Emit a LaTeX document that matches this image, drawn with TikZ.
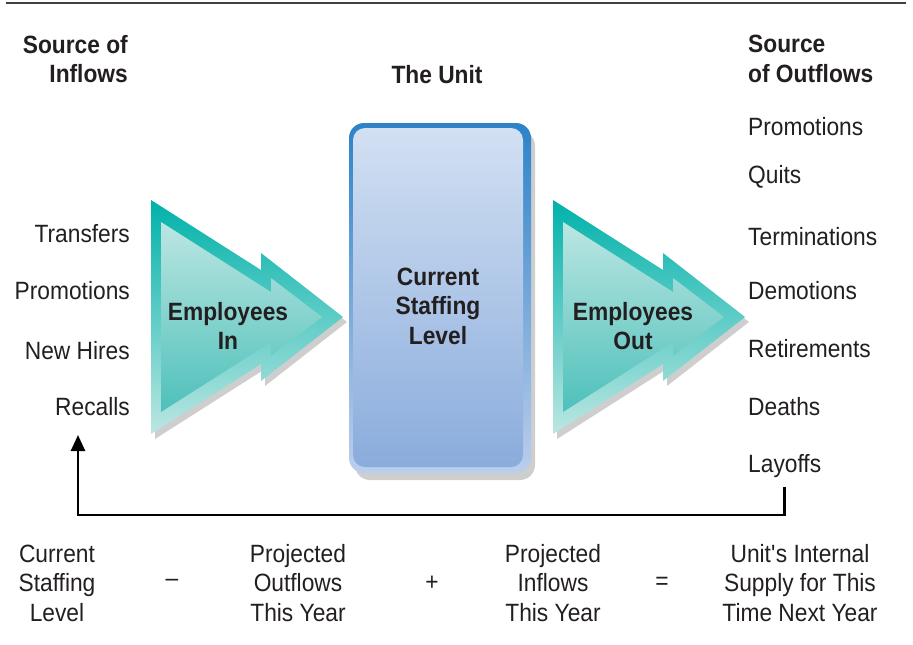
\documentclass[tikz,border=0pt]{standalone}
\usepackage{fontspec}
\setmainfont{Liberation Sans}[FakeStretch=0.91]
\usetikzlibrary{arrows.meta, positioning, calc}

\definecolor{tealdark}{RGB}{0,178,170}
\definecolor{tealpale}{RGB}{188,230,226}
\definecolor{tealmid}{RGB}{78,192,186}
\definecolor{boxtop}{RGB}{210,224,242}
\definecolor{boxbot}{RGB}{138,172,220}
\definecolor{boxedge}{RGB}{45,130,200}
\definecolor{boxedgelt}{RGB}{188,206,236}
\definecolor{shadowgray}{RGB}{206,206,206}
\definecolor{inktext}{RGB}{35,31,32}

\begin{document}
\begin{tikzpicture}[x=1pt, y=-1pt,
  every node/.style={text=inktext, inner sep=0pt, font=\fontsize{25}{29.5}\selectfont},
  head/.style={font=\fontsize{25}{29.5}\selectfont\bfseries},
  flowtext/.style={font=\fontsize{25}{29.5}\selectfont\bfseries, align=center},
  eqtext/.style={align=center},
  feedback/.style={line width=2.6pt, -{Triangle[length=16pt,width=14pt]}}]
\useasboundingbox (0,0) rectangle (913,645);

% top rule
\draw[line width=2.5pt, black!75] (6,3) -- (906,3);

% headers
\node[head, align=right, anchor=east] (srcin) at (128,59) {Source of\\Inflows};
\node[head] (unithd) at (437,75) {The Unit};
\node[head, align=left, anchor=west] (srcout) at (748,59) {Source\\of Outflows};

% flow arrows
\foreach \dx in {0,402} {
  \begin{scope}[xshift=\dx]
    \fill[shadowgray, shift={(4,5)}] (151,200) -- (261,270) -- (261,253) -- (343,317)
      -- (261,381) -- (261,364) -- (151,434) -- cycle;
    \shade[top color=tealdark, bottom color=tealpale] (151,200) -- (261,270) -- (261,253)
      -- (343,317) -- (261,381) -- (261,364) -- (151,434) -- cycle;
    \shade[top color=tealpale, bottom color=tealmid] (161,222) -- (271,292) -- (271,278)
      -- (322,317) -- (271,356) -- (271,342) -- (161,412) -- cycle;
  \end{scope}
}
\node[flowtext] (empin) at (228,326) {Employees\\In};
\node[flowtext] (empout) at (633,326) {Employees\\Out};

% the unit
\fill[shadowgray, rounded corners=15] (355,131) rectangle (535,480);
\shade[top color=boxedge, bottom color=boxedgelt, rounded corners=15] (349,123) rectangle (531,473);
\shade[top color=boxtop, middle color=boxtop!85!boxbot, bottom color=boxbot, rounded corners=12]
  (353,128) rectangle (523,467);
\node[flowtext] (unit) at (438,306) {Current\\Staffing\\Level};

% inflow sources
\foreach \nm/\txt/\yb in {tr/Transfers/242, prin/Promotions/299, nh/New Hires/359, rc/Recalls/415}
  \node[anchor=base east] (\nm) at (130,\yb) {\txt};

% outflow sources
\foreach \nm/\txt/\yb in {prout/Promotions/135, qu/Quits/183, te/Terminations/245,
    de/Demotions/299, re/Retirements/357, dt/Deaths/415, lo/Layoffs/472}
  \node[anchor=base west] (\nm) at (748,\yb) {\txt};

% feedback loop
\coordinate (fbstart) at ($(lo.south)+(0,10)$);
\coordinate (fbturn) at (78,515);
\coordinate (fbend) at (78,435);
\draw[feedback] (fbstart) |- (fbturn) -- (fbend);

% equation
\node[eqtext] (cur) at (57,583) {Current\\Staffing\\Level};
\node (minus) at (172,583) {--};
\node[eqtext] (outproj) at (298,583) {Projected\\Outflows\\This Year};
\node (plus) at (432,583) {+};
\node[eqtext] (inproj) at (553,583) {Projected\\Inflows\\This Year};
\node (eq) at (662,583) {=};
\node[eqtext] (supply) at (800,583) {Unit\textquotesingle s Internal\\Supply for This\\Time Next Year};
\end{tikzpicture}
\end{document}
